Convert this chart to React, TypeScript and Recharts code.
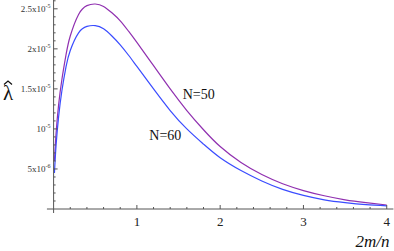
import React from 'react';
import { LineChart, Line, XAxis, YAxis, ReferenceDot, ReferenceLine } from 'recharts';

// x = 2m/n
const xs = [0.01, 0.03, 0.06, 0.1, 0.15, 0.2, 0.3, 0.4, 0.5, 0.6, 0.7, 0.8, 0.9, 1.0, 1.2, 1.4, 1.6, 1.8, 2.0, 2.25, 2.5, 2.75, 3.0, 3.25, 3.5, 3.75, 4.0];
// lambda-hat values, in units of 1e-6
const n50 = [6, 9.5, 13, 16.2, 19.3, 21.6, 24.3, 25.4, 25.6, 25.3, 24.5, 23.5, 22.2, 20.8, 17.9, 15.0, 12.3, 9.9, 7.8, 5.8, 4.3, 3.15, 2.3, 1.65, 1.15, 0.8, 0.5];
const n60 = [4.5, 8, 11.5, 14.8, 17.8, 19.8, 22.0, 22.8, 22.9, 22.5, 21.6, 20.5, 19.2, 17.8, 15.0, 12.3, 10.0, 8.1, 6.4, 4.8, 3.5, 2.45, 1.7, 1.15, 0.8, 0.55, 0.4];

const xMajor = [1, 2, 3, 4];
const xTicks = [0.2, 0.4, 0.6, 0.8, 1, 1.2, 1.4, 1.6, 1.8, 2, 2.2, 2.4, 2.6, 2.8, 3, 3.2, 3.4, 3.6, 3.8, 4];
const yTicks = [1, 2, 3, 4, 5, 6, 7, 8, 9, 10, 11, 12, 13, 14, 15, 16, 17, 18, 19, 20, 21, 22, 23, 24, 25, 26];
const yLabels: Record<number, [string, string]> = {
  5: ['5x10', '-6'],
  10: ['10', '-5'],
  15: ['1.5x10', '-5'],
  20: ['2x10', '-5'],
  25: ['2.5x10', '-5'],
};

const data = xs.map((x, i) => ({ x, n50: n50[i], n60: n60[i] }));

const AXIS = '#555';
const FONT = '"Liberation Serif", "DejaVu Serif", serif';

const XTick = (props: any) => {
  const { x, y, payload } = props;
  const major = xMajor.includes(Math.round(payload.value * 10) / 10);
  return (
    <g>
      <line x1={x} y1={y} x2={x} y2={y - (major ? 4 : 2)} stroke={AXIS} strokeWidth={1} />
      {major && (
        <text x={x} y={y + 17} textAnchor="middle" fontSize={13} fontFamily={FONT} fill="#222">
          {payload.value}
        </text>
      )}
    </g>
  );
};

const YTick = (props: any) => {
  const { x, y, payload } = props;
  const lab = yLabels[payload.value];
  return (
    <g>
      <line x1={x} y1={y} x2={x + (lab ? 4 : 2)} y2={y} stroke={AXIS} strokeWidth={1} />
      {lab && (
        <text x={x - 3} y={y + 3} textAnchor="end" fontSize={9} fontFamily={FONT} fill="#333">
          {lab[0]}
          <tspan dy={-4} fontSize={6}>{lab[1]}</tspan>
        </text>
      )}
    </g>
  );
};

// lambda with a hat, as the y-axis title
const LambdaHat = (props: any) => {
  const vb = props.viewBox || { x: 0, y: 0, height: 209 };
  const cx = vb.x + 8;
  const cy = vb.y + vb.height / 2 - 14;
  return (
    <g>
      <text x={cx} y={cy + 9} textAnchor="middle" fontSize={21} fontFamily={FONT} fill="#111">λ</text>
      <path d={`M${cx - 4},${cy - 6} L${cx},${cy - 9.5} L${cx + 4},${cy - 6}`} fill="none" stroke="#111" strokeWidth={1.2} />
    </g>
  );
};

export default function App() {
  return (
    <div style={{ position: 'absolute', left: 0, top: 0, width: 394, height: 251, background: '#fff' }}>
      <LineChart width={394} height={251} data={data} margin={{ top: 0, right: 0.6, bottom: 0, left: 0 }}>
        <XAxis
          dataKey="x"
          type="number"
          domain={[0, 4.08]}
          ticks={xTicks}
          interval={0}
          tick={<XTick />}
          tickSize={0}
          tickMargin={0}
          tickLine={false}
          height={42}
          stroke={AXIS}
          label={{ value: '2m/n', position: 'insideBottomRight', offset: 4, style: { fontFamily: FONT, fontStyle: 'italic', fontSize: 17, fill: '#111' } }}
        />
        <YAxis
          type="number"
          domain={[0, 26.1]}
          ticks={yTicks}
          interval={0}
          tick={<YTick />}
          tickSize={0}
          tickMargin={0}
          tickLine={false}
          width={53.6}
          stroke={AXIS}
          label={{ position: 'insideLeft', content: <LambdaHat /> }}
        />
        <ReferenceLine segment={[{ x: -0.08, y: 0 }, { x: 0, y: 0 }]} stroke={AXIS} ifOverflow="visible" />
        <ReferenceLine segment={[{ x: 0, y: -0.5 }, { x: 0, y: 0 }]} stroke={AXIS} ifOverflow="visible" />
        <Line type="natural" dataKey="n50" stroke="#9030b0" strokeWidth={1.2} dot={false} isAnimationActive={false} />
        <Line type="natural" dataKey="n60" stroke="#3a4cff" strokeWidth={1.2} dot={false} isAnimationActive={false} />
        <ReferenceDot x={1.743} y={14.4} r={0} fill="none" stroke="none" ifOverflow="visible"
          label={{ value: 'N=50', position: 'center', style: { fontFamily: FONT, fontSize: 14, fill: '#111' } }} />
        <ReferenceDot x={1.342} y={9.25} r={0} fill="none" stroke="none" ifOverflow="visible"
          label={{ value: 'N=60', position: 'center', style: { fontFamily: FONT, fontSize: 14, fill: '#111' } }} />
      </LineChart>
    </div>
  );
}
